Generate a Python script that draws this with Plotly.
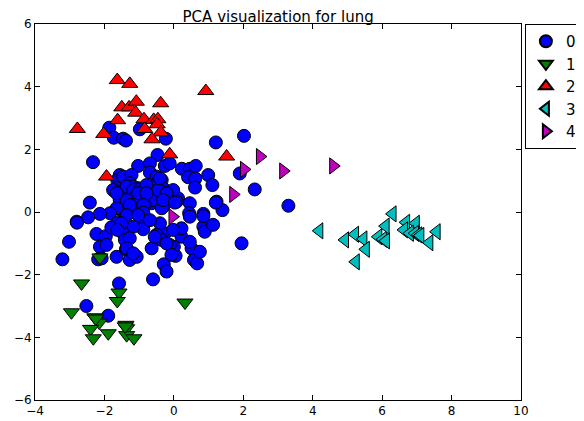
import plotly.graph_objects as go

# ---- data (PCA coordinates) ----
class0_x = [-1.86, -1.73, -1.46, -1.38, -0.98, -0.23, 1.21, 2.02, -2.33, -0.47, -1.03, -0.69, -0.69, -0.26, -0.12,
            0.23, 0.46, 0.63, 0.41, 0.62, 0.99, 1.11, 1.90, 2.33, 3.30, 0.61, 0.12,
            -1.56, -1.63, -1.46, -1.22, -1.27, -1.65, -1.51, -1.17, -1.03, -0.88, -1.03, -0.84, -0.50, -0.45,
            -0.35, -0.31, -0.29, -0.02, -0.21, -0.31, -0.64, -0.60, -0.84, -1.17, -1.56, -1.51, -1.65, -1.27,
            -1.03, -1.84, -2.13, -2.42, -2.80, -2.47, 0.08, 0.46, 0.44, 0.85, 1.23, 1.40, -1.75, -1.36, -1.17,
            -0.98, -0.79, -0.45, -0.40, -1.12, -1.36, -1.65, -1.03, -0.79, -0.21, -0.35, -0.31, -0.88, -1.27,
            0.03, 1.21,
            -2.79, -2.23, -1.96, -3.02, -3.21, -2.13, -1.94, -2.18, -1.65, -1.38, -1.27, -1.07, -0.64, -1.58,
            -2.52, -1.89, -0.60, -0.29, -0.21, 0.05, 0.51, 0.58, 0.67, 0.75, 0.00, 0.22, 0.46, 0.85, 0.89,
            1.13, 0.85, 1.95, -0.26, -0.40, -0.84, -0.88, -1.17, -1.46, -1.63, -1.80, -1.41, -1.27, -0.50,
            -0.35, -0.12, 0.22, 0.46, -0.02, -0.88, -1.36, -1.51, -1.63, -1.03, -0.69, -2.08, -1.36, -1.17,
            -0.55, -0.07, -0.21]
class0_y = [2.69, 2.37, 2.34, 2.28, 2.64, 2.34, 2.22, 2.43, 1.59, 1.82, 1.47, 1.55, 1.26, 1.47, 1.55,
            1.38, 1.38, 1.47, 1.11, 1.07, 1.18, 0.86, 1.23, 0.72, 0.20, 0.78, 0.44,
            1.18, 1.02, 1.13, 1.18, 0.92, 0.76, 0.65, 0.81, 0.76, 0.65, 0.49, 0.49, 1.13, 0.97,
            1.02, 0.76, 0.62, 0.70, 0.41, 0.17, 0.28, 0.38, 0.22, 0.33, 0.38, 0.06, 0.12, 0.01,
            -0.04, -0.04, -0.06, 0.30, -0.31, -0.17, 0.33, 0.28, -0.04, -0.06, 0.33, 0.06, 0.70, 0.81, 0.70,
            0.72, 0.86, 0.70, 1.07, 0.49, 0.38, 0.60, 0.60, 0.60, 0.60, 0.12, 0.38, 0.22, 0.22,
            0.30, 0.30,
            -0.34, -0.70, -0.77, -0.95, -1.51, -1.11, -1.05, -1.51, -1.43, -1.19, -1.53, -1.43, -1.16, -2.28,
            -3.00, -3.31, -2.15, -1.67, -1.90, -1.40, -1.16, -1.53, -1.64, -1.27, -1.11, -0.79, -0.95, -0.47, -0.63,
            -0.41, -0.13, -1.00, -0.68, -0.36, -0.31, -0.55, -0.47, -0.68, -0.34, -0.49, -0.89, -0.84, -0.73,
            -0.89, -1.05, -0.52, -0.15, -0.57, -0.02, -0.10, -0.36, -0.57, -0.10, -0.26, -1.48, -1.16, -1.32,
            -0.79, -1.37, -1.00]

class1_x = [-2.13, -2.66, -1.58, -1.63, -2.95, -2.28, -2.15, -2.40, -2.32, -1.89, -1.38, -1.36, -1.36,
            -1.15, 0.32, -1.40, -2.25]
class1_y = [-1.45, -2.28, -2.57, -2.84, -3.20, -3.36, -3.53, -3.73, -4.03, -3.87, -3.60, -3.71, -3.93,
            -4.03, -2.89, -3.65, -3.40]

class2_x = [-1.63, -1.27, -1.50, -1.29, -1.08, -0.38, -1.10, -0.86, -0.58, -0.46, -0.48, -0.84, -0.38,
            -0.63, -1.62, -2.02, -2.78, -1.94, -0.12, 0.92, 1.52]
class2_y = [4.21, 4.09, 3.34, 3.34, 3.52, 3.47, 3.17, 2.96, 2.94, 2.96, 2.80, 2.65, 2.54,
            2.32, 2.93, 2.49, 2.65, 1.13, 1.84, 3.86, 1.77]

class3_x = [4.19, 4.93, 5.22, 5.46, 5.89, 6.03, 6.11, 5.53, 5.24, 6.30, 6.10, 6.69, 6.97, 6.63, 6.80,
            6.95, 7.04, 7.10, 7.57, 7.36]
class3_y = [-0.60, -0.89, -0.71, -0.86, -0.79, -0.87, -0.92, -1.19, -1.59, -0.06, -0.45, -0.33, -0.36,
            -0.57, -0.68, -0.68, -0.73, -0.75, -0.63, -0.98]

class4_x = [2.48, 2.02, 3.15, 4.59, 1.71, -0.04]
class4_y = [1.77, 1.36, 1.31, 1.47, 0.56, -0.15]

labels = ["0", "1", "2", "3", "4"]
colors = ["#0000ff", "#008000", "#ff0000", "#00bfbf", "#bf00bf"]
symbols = ["circle", "triangle-down", "triangle-up", "triangle-left", "triangle-right"]
xs = [class0_x, class1_x, class2_x, class3_x, class4_x]
ys = [class0_y, class1_y, class2_y, class3_y, class4_y]

x_ticks = [-4, -2, 0, 2, 4, 6, 8, 10]
y_ticks = [-6, -4, -2, 0, 2, 4, 6]

fig = go.Figure()
for lab, col, sym, x, y in zip(labels, colors, symbols, xs, ys):
    fig.add_trace(go.Scatter(
        x=x, y=y, mode="markers", name=lab,
        marker=dict(symbol=sym, color=col, size=13 if sym == "circle" else 14,
                    line=dict(color="black", width=1)),
    ))

axis_common = dict(
    showgrid=False, zeroline=False, showline=True, linecolor="black", linewidth=1,
    mirror="ticks", ticks="inside", ticklen=5, tickcolor="black", automargin=False,
    tickfont=dict(family="DejaVu Sans", size=12, color="black"),
)

# the page body adds an 8px offset, so the figure is 8px smaller and margins shifted
fig.update_layout(
    width=576, height=413,
    margin=dict(l=27, r=63, t=16, b=21, autoexpand=False),
    paper_bgcolor="white", plot_bgcolor="white",
    title=dict(text="PCA visualization for lung", x=0.469, xanchor="center", y=0.98, yanchor="middle",
               font=dict(family="DejaVu Sans", size=15, color="black")),
    xaxis=dict(range=[-4, 10], tickvals=x_ticks, **axis_common),
    yaxis=dict(range=[-6, 6], tickvals=y_ticks, **axis_common),
    legend=dict(x=1.008, y=1, xanchor="left", yanchor="top", bordercolor="black", borderwidth=1,
                font=dict(family="DejaVu Sans", size=15, color="black"), bgcolor="white",
                tracegroupgap=0, itemsizing="constant"),
    showlegend=True,
)

fig.write_html("out.html")
